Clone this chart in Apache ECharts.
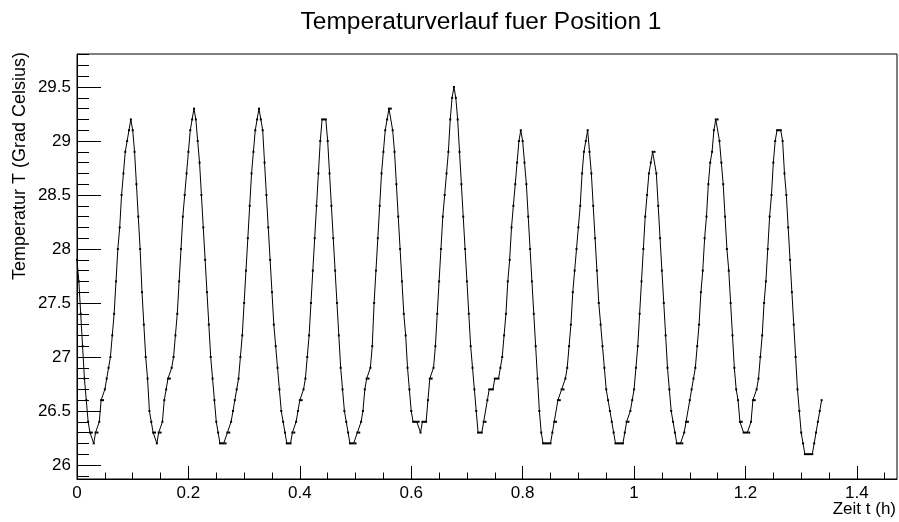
<!DOCTYPE html>
<html>
<head>
<meta charset="utf-8">
<script src="https://cdn.jsdelivr.net/npm/echarts@6/dist/echarts.min.js"></script>
<style>
html,body{margin:0;padding:0;background:#fff;}
#c{width:899px;height:522px;}
</style>
</head>
<body>
<div id="c"></div>
<script>
const chartTitle = 'Temperaturverlauf fuer Position 1';
const xTitle = 'Zeit t (h)';
const yTitle = 'Temperatur T (Grad Celsius)';
// one reading every 12 s
const sampleStepHours = 12 / 3600;
const temps = [
  27.9,27.7,27.4,27.1,26.8,26.6,26.4,26.3,26.3,26.2,
  26.3,26.3,26.4,26.6,26.6,26.7,26.8,26.9,27.0,27.2,27.4,27.7,28.0,28.2,28.5,28.7,28.9,29.0,29.1,29.2,
  29.1,28.9,28.6,28.3,28.0,27.6,27.3,27.0,26.8,26.5,26.4,26.3,26.3,26.2,
  26.3,26.3,26.4,26.6,26.7,26.8,26.8,26.9,27.0,27.2,27.4,27.7,28.0,28.3,28.5,28.7,28.9,29.1,29.2,29.3,
  29.2,29.0,28.8,28.5,28.2,27.9,27.6,27.3,27.0,26.8,26.6,26.4,26.3,26.2,26.2,26.2,26.2,
  26.3,26.3,26.4,26.5,26.6,26.7,26.8,27.0,27.2,27.5,27.8,28.1,28.4,28.7,28.9,29.1,29.2,29.3,
  29.2,29.1,28.8,28.5,28.2,27.9,27.6,27.3,27.1,26.9,26.7,26.5,26.4,26.3,26.2,26.2,26.2,
  26.3,26.3,26.4,26.5,26.6,26.6,26.7,26.8,27.0,27.2,27.5,27.8,28.1,28.4,28.7,29.0,29.2,29.2,29.2,
  29.0,28.7,28.4,28.1,27.8,27.5,27.2,26.9,26.7,26.5,26.4,26.3,26.2,26.2,26.2,26.2,
  26.3,26.3,26.4,26.5,26.7,26.8,26.8,26.9,27.1,27.5,27.8,28.1,28.4,28.7,28.9,29.1,29.2,29.3,29.3,
  29.1,28.9,28.6,28.3,28.0,27.7,27.4,27.2,26.9,26.7,26.5,26.4,26.4,26.4,26.4,26.3,26.4,26.4,26.4,
  26.6,26.8,26.8,26.9,27.1,27.4,27.7,28.0,28.3,28.5,28.7,28.9,29.2,29.4,29.5,
  29.4,29.2,28.9,28.6,28.3,28.0,27.7,27.4,27.1,26.9,26.7,26.5,26.3,26.3,26.3,
  26.4,26.4,26.6,26.7,26.7,26.7,26.8,26.8,26.8,26.9,27.0,27.2,27.4,27.7,27.9,28.2,28.4,28.6,28.8,29.0,29.1,
  29.0,28.8,28.6,28.3,28.0,27.7,27.4,27.1,26.8,26.5,26.3,26.2,26.2,26.2,26.2,26.2,
  26.3,26.4,26.4,26.6,26.6,26.7,26.7,26.8,26.9,27.1,27.3,27.6,27.8,28.0,28.2,28.4,28.7,28.9,29.0,29.1,
  28.9,28.7,28.4,28.1,27.8,27.5,27.3,27.1,26.9,26.7,26.6,26.5,26.4,26.3,26.2,26.2,26.2,26.2,26.2,
  26.3,26.4,26.4,26.5,26.6,26.7,26.9,27.1,27.4,27.7,28.0,28.3,28.5,28.7,28.8,28.9,28.9,
  28.7,28.4,28.1,27.8,27.5,27.2,26.9,26.7,26.5,26.4,26.3,26.2,26.2,26.2,26.2,
  26.3,26.4,26.4,26.6,26.7,26.8,26.9,27.1,27.3,27.6,27.8,28.1,28.3,28.6,28.8,28.9,29.1,29.2,29.2,
  29.0,28.8,28.6,28.3,28.0,27.8,27.5,27.2,26.9,26.7,26.6,26.4,26.4,26.3,26.3,26.3,26.3,
  26.4,26.6,26.6,26.7,26.8,27.0,27.2,27.5,27.7,28.0,28.3,28.5,28.8,29.0,29.1,29.1,29.1,
  29.0,28.7,28.5,28.2,27.9,27.6,27.3,27.0,26.7,26.5,26.3,26.2,26.1,26.1,26.1,26.1,26.1,
  26.2,26.3,26.4,26.5,26.6
];
const xMajorTicks = [0, 0.2, 0.4, 0.6, 0.8, 1.0, 1.2, 1.4];
const xMinorTicks = [0.05, 0.1, 0.15, 0.25, 0.3, 0.35, 0.45, 0.5, 0.55, 0.65, 0.7, 0.75,
  0.85, 0.9, 0.95, 1.05, 1.1, 1.15, 1.25, 1.3, 1.35, 1.45];
const yMajorTicks = [26, 26.5, 27, 27.5, 28, 28.5, 29, 29.5];
const yMinorTicks = [25.9, 26.1, 26.2, 26.3, 26.4, 26.6, 26.7, 26.8, 26.9, 27.1, 27.2, 27.3, 27.4,
  27.6, 27.7, 27.8, 27.9, 28.1, 28.2, 28.3, 28.4, 28.6, 28.7, 28.8, 28.9, 29.1, 29.2, 29.3, 29.4,
  29.6, 29.7, 29.8];
const xRange = [0, 1.472];
const yRange = [25.87, 29.806];

const FONT = '"Liberation Sans", Arial, Helvetica, sans-serif';
const points = temps.map((v, i) => [i * sampleStepHours, v]);

const gridBox = {left: 77, right: 2, top: 54, bottom: 43};
const chart = echarts.init(document.getElementById('c'), null, {renderer: 'canvas'});
chart.setOption({
  animation: false,
  backgroundColor: '#fff',
  grid: [
    Object.assign({show: true, borderColor: '#000', borderWidth: 1, backgroundColor: 'transparent', containLabel: false}, gridBox),
    Object.assign({show: false, containLabel: false}, gridBox)
  ],
  xAxis: [
    {
      type: 'value', gridIndex: 0, min: xRange[0], max: xRange[1],
      axisLine: {show: true, onZero: false, lineStyle: {color: '#000', width: 1}},
      axisTick: {show: true, inside: true, length: 13, customValues: xMajorTicks, lineStyle: {color: '#000'}},
      axisLabel: {show: true, customValues: xMajorTicks, color: '#000', fontSize: 17, fontFamily: FONT, margin: 6,
        formatter: v => String(+v.toFixed(2))},
      splitLine: {show: false}
    },
    {
      type: 'value', gridIndex: 1, min: xRange[0], max: xRange[1],
      axisLine: {show: false, onZero: false},
      axisTick: {show: true, inside: true, length: 6.5, customValues: xMinorTicks, lineStyle: {color: '#000'}},
      axisLabel: {show: false},
      splitLine: {show: false}
    }
  ],
  yAxis: [
    {
      type: 'value', gridIndex: 0, min: yRange[0], max: yRange[1],
      axisLine: {show: true, onZero: false, lineStyle: {color: '#000', width: 1}},
      axisTick: {show: true, inside: true, length: 24, customValues: yMajorTicks, lineStyle: {color: '#000'}},
      axisLabel: {show: true, customValues: yMajorTicks, color: '#000', fontSize: 17, fontFamily: FONT, margin: 6,
        formatter: v => String(+v.toFixed(2))},
      splitLine: {show: false}
    },
    {
      type: 'value', gridIndex: 1, min: yRange[0], max: yRange[1],
      axisLine: {show: false, onZero: false},
      axisTick: {show: true, inside: true, length: 12, customValues: yMinorTicks, lineStyle: {color: '#000'}},
      axisLabel: {show: false},
      splitLine: {show: false}
    }
  ],
  series: [{
    type: 'line',
    xAxisIndex: 0, yAxisIndex: 0,
    data: points,
    showSymbol: true,
    showAllSymbol: true,
    symbol: 'rect',
    symbolSize: 2,
    itemStyle: {color: '#000'},
    lineStyle: {color: '#000', width: 1},
    sampling: null,
    smooth: false,
    silent: true
  }],
  graphic: [
    {type: 'text', x: 481, y: 22, style: {text: chartTitle, fill: '#000', font: '24.5px ' + FONT, align: 'center', verticalAlign: 'middle'}},
    {type: 'text', x: 896, y: 509, style: {text: xTitle, fill: '#000', font: '17px ' + FONT, align: 'right', verticalAlign: 'middle'}},
    {type: 'text', x: 20, y: 52, rotation: Math.PI / 2, style: {text: yTitle, fill: '#000', font: '18px ' + FONT, align: 'right', verticalAlign: 'middle'}}
  ]
});
</script>
</body>
</html>
